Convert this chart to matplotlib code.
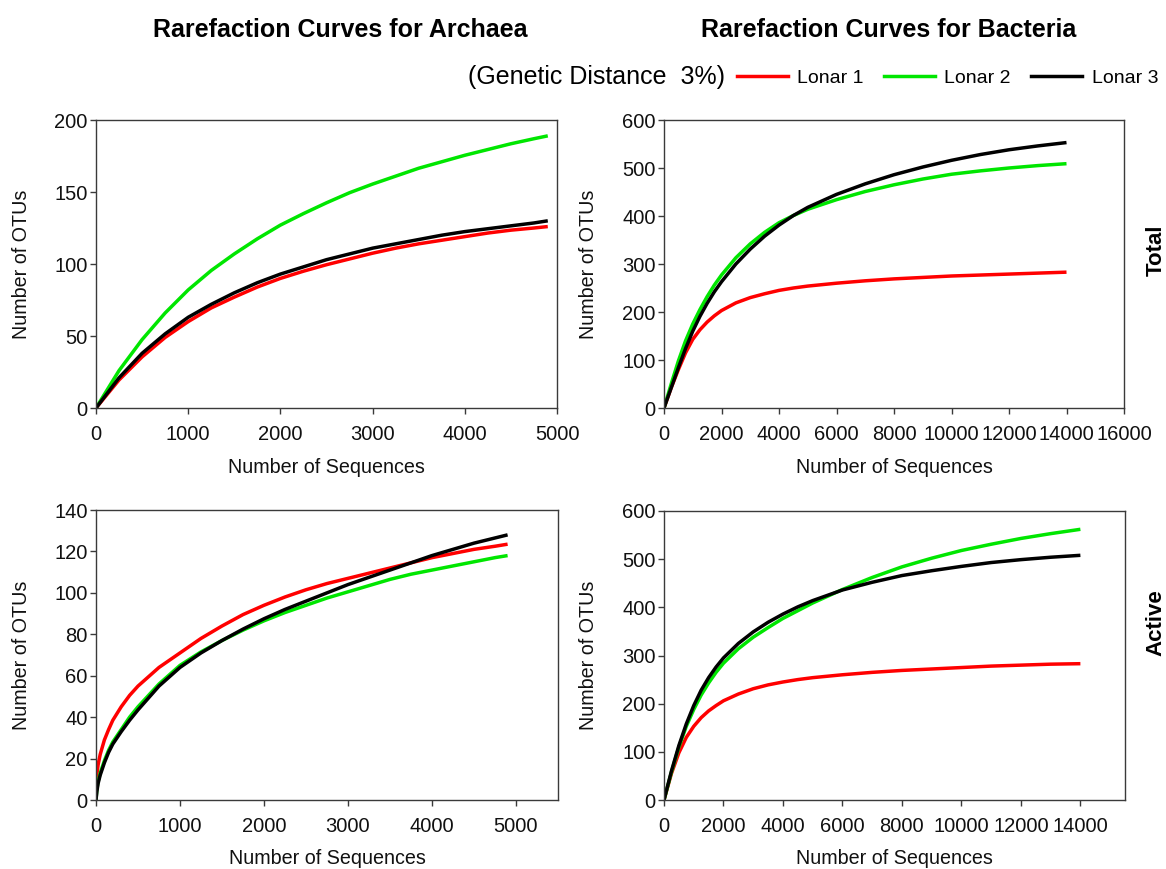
import matplotlib
matplotlib.use("Agg")
import matplotlib.pyplot as plt
from matplotlib.lines import Line2D

plt.rcParams['font.family'] = ['Liberation Sans', 'DejaVu Sans']

# ---------------- data ----------------
# Archaea - Total
arch_total_x = [0, 250, 500, 750, 1000, 1250, 1500, 1750, 2000, 2250, 2500, 2750, 3000,
                3250, 3500, 3750, 4000, 4250, 4500, 4750, 4900]
arch_total_l1 = [0, 19.5, 35.5, 49, 60, 69.5, 77, 84, 90, 95, 99.5, 103.5, 107.5,
                 111, 114, 116.5, 119, 121.5, 123.5, 125, 126]
arch_total_l2 = [0, 26, 47.5, 66, 82, 95.5, 107, 117.5, 127, 135, 142.5, 149.5, 155.5,
                 161, 166.5, 171, 175.5, 179.5, 183.5, 187, 189]
arch_total_l3 = [0, 21, 38, 51.5, 63, 72, 80, 87, 93, 98, 103, 107, 111,
                 114, 117, 120, 122.5, 124.5, 126.5, 128.5, 130]

# Archaea - Active
arch_active_x = [0, 10, 25, 50, 100, 150, 200, 300, 400, 500, 750, 1000, 1250, 1500, 1750,
                 2000, 2250, 2500, 2750, 3000, 3250, 3500, 3750, 4000, 4250, 4500, 4750, 4900]
arch_active_l1 = [6, 12, 17, 22, 29, 34, 38.5, 45, 50.5, 55, 64, 71, 78, 84, 89.5,
                  94, 98, 101.5, 104.5, 107, 109.5, 112, 114.5, 117, 119, 121, 122.5, 123.5]
arch_active_l2 = [0, 5, 9, 13, 19, 24, 28, 34, 40, 45, 56, 65, 71.5, 77, 82,
                  86.5, 90.5, 94, 97.5, 100.5, 103.5, 106.5, 109, 111, 113, 115, 117, 118]
arch_active_l3 = [0, 4, 8, 12, 18, 23, 27, 33, 38.5, 43.5, 55, 64, 71, 77, 82.5,
                  87.5, 92, 96, 100, 104, 107.5, 111, 114.5, 118, 121, 124, 126.5, 128]

# Bacteria - Total
bact_total_x = [0, 250, 500, 750, 1000, 1250, 1500, 1750, 2000, 2500, 3000, 3500, 4000, 4500,
                5000, 6000, 7000, 8000, 9000, 10000, 11000, 12000, 13000, 14000]
bact_total_l1 = [0, 42, 80, 115, 143, 163, 179, 192, 203, 219, 230, 238, 245, 250,
                 254, 260, 265, 269, 272, 275, 277, 279, 281, 283]
bact_total_l2 = [0, 50, 98, 140, 175, 205, 232, 256, 277, 313, 342, 366, 386, 401,
                 414, 434, 451, 465, 477, 487, 494, 500, 505, 509]
bact_total_l3 = [0, 42, 84, 124, 160, 191, 218, 242, 263, 300, 331, 358, 381, 401,
                 418, 445, 467, 486, 502, 516, 528, 538, 546, 553]

# Bacteria - Active
bact_active_x = [0, 250, 500, 750, 1000, 1250, 1500, 1750, 2000, 2500, 3000, 3500, 4000, 4500,
                 5000, 6000, 7000, 8000, 9000, 10000, 11000, 12000, 13000, 14000]
bact_active_l1 = [0, 55, 98, 130, 153, 171, 185, 196, 206, 220, 231, 239, 245, 250,
                  254, 260, 265, 269, 272, 275, 278, 280, 282, 283]
bact_active_l2 = [0, 58, 110, 153, 188, 218, 243, 265, 284, 314, 338, 358, 377, 393,
                  409, 437, 462, 484, 502, 518, 531, 543, 553, 562]
bact_active_l3 = [0, 60, 113, 158, 196, 228, 254, 276, 295, 325, 349, 369, 386, 401,
                  414, 436, 452, 466, 476, 485, 493, 499, 504, 508]

series_names = ["Lonar 1", "Lonar 2", "Lonar 3"]
series_colors = ["#ff0000", "#00e600", "#000000"]

panels = [
    (arch_total_x, [arch_total_l1, arch_total_l2, arch_total_l3],
     (0, 5000), list(range(0, 5001, 1000)), (0, 200), list(range(0, 201, 50))),
    (bact_total_x, [bact_total_l1, bact_total_l2, bact_total_l3],
     (0, 16000), list(range(0, 16001, 2000)), (0, 600), list(range(0, 601, 100))),
    (arch_active_x, [arch_active_l1, arch_active_l2, arch_active_l3],
     (0, 5500), list(range(0, 5001, 1000)), (0, 140), list(range(0, 141, 20))),
    (bact_active_x, [bact_active_l1, bact_active_l2, bact_active_l3],
     (0, 15500), list(range(0, 14001, 2000)), (0, 600), list(range(0, 601, 100))),
]

W, H = 1166, 869
fig = plt.figure(figsize=(W / 100, H / 100), dpi=100)

def rect(l, r, t, b):
    return [l / W, 1 - b / H, (r - l) / W, (b - t) / H]

rects = [rect(96, 557, 120, 408), rect(664, 1124, 120, 408),
         rect(96, 558, 510, 800), rect(664, 1125, 511, 800)]

spine_col = "#3a3a3a"
LW = 2.5
axes = []
for (x, ys, xlim, xt, ylim, yt), rc in zip(panels, rects):
    ax = fig.add_axes(rc)
    for y, c, n in zip(ys, series_colors, series_names):
        ax.plot(x, y, color=c, lw=LW, label=n, solid_capstyle='butt', solid_joinstyle='round')
    ax.set_xlim(*xlim)
    ax.set_ylim(*ylim)
    ax.set_xticks(xt)
    ax.set_yticks(yt)
    for s in ax.spines.values():
        s.set_color(spine_col)
        s.set_linewidth(1.0)
    ax.tick_params(axis='both', direction='out', length=4, width=1, color=spine_col,
                   labelsize=14.5, labelcolor='#111111')
    ax.tick_params(axis='x', pad=8)
    ax.tick_params(axis='y', pad=2)
    axes.append(ax)

# axis labels
lab_fs = 14.2
for xc, yc in [(326, 468), (894, 468), (327, 859), (894, 859)]:
    fig.text(xc / W, 1 - yc / H, "Number of Sequences", ha='center', va='center',
             fontsize=lab_fs, color='#111111')
for xc, yc in [(22, 264), (589, 264), (22, 655), (589, 655)]:
    fig.text(xc / W, 1 - yc / H, "Number of OTUs", ha='center', va='center',
             rotation=90, fontsize=lab_fs, color='#111111')

# titles
fig.text(340 / W, 1 - 30 / H, "Rarefaction Curves for Archaea", ha='center', va='center',
         fontsize=18, fontweight='bold')
fig.text(889 / W, 1 - 30 / H, "Rarefaction Curves for Bacteria", ha='center', va='center',
         fontsize=18, fontweight='bold')

# row labels
fig.text(1156 / W, 1 - 250 / H, "Total", ha='center', va='center', rotation=90,
         fontsize=16, fontweight='bold')
fig.text(1156 / W, 1 - 623 / H, "Active", ha='center', va='center', rotation=90,
         fontsize=16, fontweight='bold')

# legend
fig.text(468 / W, 1 - 77 / H, "(Genetic Distance  3%)", ha='left', va='center', fontsize=18)
handles = [Line2D([], [], color=c, lw=LW) for c in series_colors]
fig.legend(handles, series_names, loc='center left', bbox_to_anchor=(737 / W, 1 - 78 / H),
           ncol=3, frameon=False, fontsize=14, handlelength=2.6, handletextpad=0.5,
           columnspacing=1.05, borderpad=0, borderaxespad=0)

fig.savefig("out.png", dpi=100)
